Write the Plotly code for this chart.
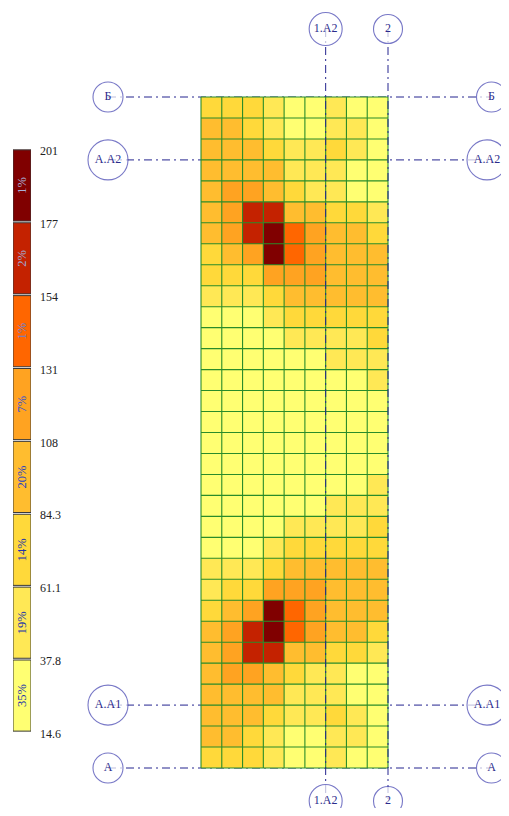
import plotly.graph_objects as go

# ---------------- data ----------------
breaks = [14.6, 37.8, 61.1, 84.3, 108, 131, 154, 177, 201]
break_labels = ["14.6", "37.8", "61.1", "84.3", "108", "131", "154", "177", "201"]
class_colors = ["#ffff72", "#ffe855", "#ffd93a", "#ffbd2f", "#ffa321", "#ff6600", "#c42200", "#800000"]
class_shares = ["35%", "19%", "14%", "20%", "7%", "1%", "2%", "1%"]
share_text_colors = ["#2233aa", "#2233aa", "#2233aa", "#2a3fc0", "#3a55d0", "#6a80d0", "#a0aad6", "#a8b0d8"]

# estimated cell values (rows top -> bottom, 9 columns)
z = [
    [72, 72, 72, 49, 26, 26, 49, 26, 26],
    [96, 96, 72, 49, 26, 26, 49, 49, 26],
    [96, 96, 96, 72, 49, 49, 72, 49, 26],
    [96, 96, 96, 96, 49, 49, 49, 26, 26],
    [96, 119, 119, 96, 72, 49, 49, 26, 26],
    [96, 119, 165, 165, 96, 96, 72, 72, 49],
    [96, 119, 165, 189, 142, 119, 96, 96, 72],
    [72, 96, 119, 189, 142, 119, 96, 96, 96],
    [72, 72, 72, 119, 119, 119, 96, 96, 96],
    [49, 49, 49, 72, 96, 96, 96, 96, 96],
    [26, 26, 26, 49, 72, 72, 72, 72, 72],
    [26, 26, 26, 26, 49, 49, 49, 49, 72],
    [26, 26, 26, 26, 26, 26, 49, 49, 49],
    [26, 26, 26, 26, 26, 26, 26, 26, 49],
    [26, 26, 26, 26, 26, 26, 26, 26, 26],
    [26, 26, 26, 26, 26, 26, 26, 26, 26],
    [26, 26, 26, 26, 26, 26, 26, 26, 26],
    [26, 26, 26, 26, 26, 26, 26, 26, 26],
    [26, 26, 26, 26, 26, 26, 26, 26, 49],
    [26, 26, 26, 26, 26, 26, 49, 49, 49],
    [26, 26, 26, 26, 49, 49, 49, 49, 72],
    [26, 26, 26, 49, 72, 72, 72, 72, 72],
    [49, 49, 49, 72, 96, 96, 96, 96, 96],
    [49, 72, 72, 119, 119, 119, 96, 96, 96],
    [72, 96, 119, 189, 142, 119, 96, 96, 96],
    [96, 119, 165, 189, 142, 119, 96, 96, 72],
    [96, 119, 165, 165, 96, 96, 72, 72, 49],
    [96, 119, 119, 96, 72, 49, 49, 26, 26],
    [96, 96, 96, 96, 49, 49, 49, 26, 26],
    [96, 96, 96, 72, 49, 49, 72, 49, 26],
    [96, 96, 72, 49, 26, 26, 49, 49, 26],
    [72, 72, 72, 49, 26, 26, 49, 26, 26],
]

row_axis_names = ["Б", "А.А2", "А.А1", "А"]
row_axis_pos = [0, 3, 29, 32]
row_bubble_size = [30, 40, 40, 30]
col_axis_names = ["1.А2", "2"]
col_axis_pos = [6, 9]
col_bubble_size = [33, 29]

# ---------------- layout constants (page pixels) ----------------
PAGE_W, PAGE_H = 509, 816
OFF = 8                      # default body margin of the html page
W, Hpx = PAGE_W - OFF, PAGE_H - 2 * OFF
grid_left_px, grid_top_px = 201, 97
cell_w, cell_h = 187 / 9, 671 / 32
left_bubble_px = 108
right_bubble_px = [491.5, 487, 487, 491.5]
top_bubble_px, bottom_bubble_px = 29, 801

nrows, ncols = len(z), len(z[0])

def px_to_x(p):
    return (p - grid_left_px) / cell_w

def px_to_y(p):
    return (p - grid_top_px) / cell_h

def paper_x(p):
    return (p - OFF) / W

def paper_y(p):
    return (OFF + Hpx - p) / Hpx

FONT = "Liberation Serif"
AXC = "#24248f"
DASH = "8px,4px,2px,4px"

lo, hi = breaks[0], breaks[-1]
colorscale = []
for k, c in enumerate(class_colors):
    colorscale.append([(breaks[k] - lo) / (hi - lo), c])
    colorscale.append([(breaks[k + 1] - lo) / (hi - lo), c])

fig = go.Figure()

fig.add_trace(go.Heatmap(
    z=z, x0=0.5, dx=1, y0=0.5, dy=1,
    colorscale=colorscale, zmin=lo, zmax=hi, showscale=False, hoverinfo="skip",
))

# grid lines
gx, gy = [], []
for i in range(ncols + 1):
    gx += [i, i, None]
    gy += [0, nrows, None]
for j in range(nrows + 1):
    gx += [0, ncols, None]
    gy += [j, j, None]
fig.add_trace(go.Scatter(x=gx, y=gy, mode="lines", line=dict(color="#2a8c2a", width=1.1),
                         hoverinfo="skip", showlegend=False))

xl = px_to_x(left_bubble_px)
xrs = [px_to_x(p) for p in right_bubble_px]
yt, yb = px_to_y(top_bubble_px), px_to_y(bottom_bubble_px)

# horizontal axis lines (beneath the grid)
for p, xr in zip(row_axis_pos, xrs):
    fig.add_shape(type="line", x0=xl, x1=xr, y0=p, y1=p, layer="below",
                  line=dict(color=AXC, width=1, dash=DASH))

# vertical axis lines (above the grid)
vx, vy = [], []
for p in col_axis_pos:
    vx += [p, p, None]
    vy += [yt, yb, None]
fig.add_trace(go.Scatter(x=vx, y=vy, mode="lines", line=dict(color=AXC, width=1, dash=DASH),
                         hoverinfo="skip", showlegend=False))

# bubbles
bx, by, bt, bs = [], [], [], []
for name, p, s, xr in zip(row_axis_names, row_axis_pos, row_bubble_size, xrs):
    bx += [xl, xr]; by += [p, p]; bt += [name, name]; bs += [s, s]
for name, p, s in zip(col_axis_names, col_axis_pos, col_bubble_size):
    bx += [p, p]; by += [yt, yb]; bt += [name, name]; bs += [s, s]
fig.add_trace(go.Scatter(
    x=bx, y=by, text=bt, mode="markers+text", textposition="middle center",
    marker=dict(size=bs, color="white", line=dict(color="#4040b0", width=1.1)),
    textfont=dict(family=FONT, size=12, color="#2b2b8c"),
    hoverinfo="skip", showlegend=False,
))

# legend boxes
nb = len(class_colors)
fig.add_trace(go.Bar(
    x=[0] * nb, y=[0.976] * nb, base=[k + 0.012 for k in range(nb)], width=1,
    marker=dict(color=class_colors, line=dict(color="#3a3a3a", width=1)),
    text=class_shares, textposition="inside", insidetextanchor="middle", textangle=-90,
    textfont=dict(family=FONT, size=12.5, color=share_text_colors),
    constraintext="none", xaxis="x2", yaxis="y2", hoverinfo="skip", showlegend=False,
))

for k, lab in enumerate(break_labels):
    fig.add_annotation(x=paper_x(38), xref="paper", y=k, yref="y2", text=lab, showarrow=False,
                       xanchor="left", yanchor="middle", yshift=-2,
                       font=dict(family=FONT, size=12, color="#222222"))

fig.update_layout(
    width=W, height=Hpx, autosize=False,
    margin=dict(l=0, r=0, t=0, b=0, pad=0),
    paper_bgcolor="white", plot_bgcolor="white",
    showlegend=False, barmode="overlay",
    xaxis=dict(range=[px_to_x(OFF), px_to_x(OFF + W)], visible=False, domain=[0, 1]),
    yaxis=dict(range=[px_to_y(OFF + Hpx), px_to_y(OFF)], visible=False, domain=[0, 1]),
    xaxis2=dict(range=[-0.5, 0.5], visible=False, domain=[paper_x(13), paper_x(31)], anchor="y2"),
    yaxis2=dict(range=[0, nb], visible=False, domain=[paper_y(732), paper_y(149)], anchor="x2"),
)

fig.write_html("out.html")
